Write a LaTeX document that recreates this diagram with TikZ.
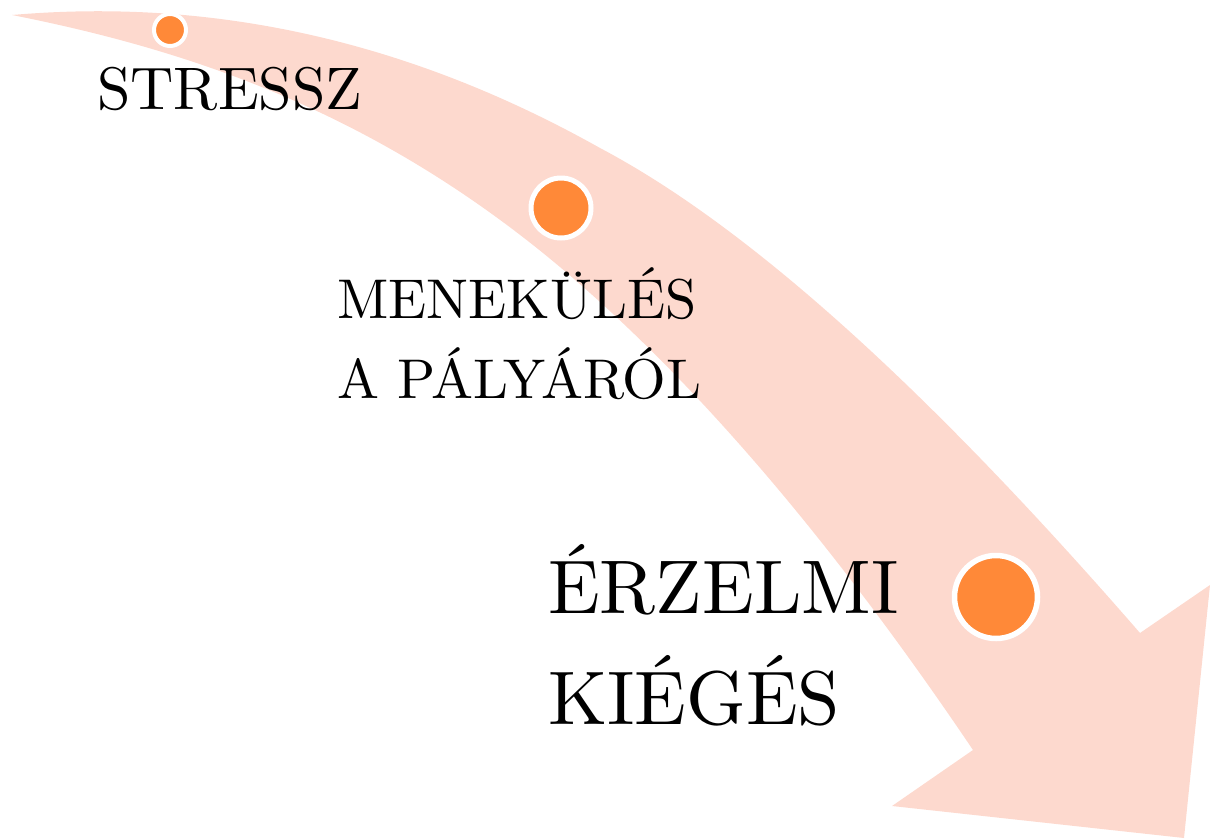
\documentclass[tikz,border=0pt]{standalone}
\usepackage{fontspec}
\setmainfont{lmroman10-regular.otf}
\definecolor{band}{RGB}{253,217,206}
\definecolor{dot}{RGB}{255,137,56}
\begin{document}
\begin{tikzpicture}[x=1pt,y=-1pt,
  dotnode/.style={circle,fill=dot,draw=white,inner sep=0pt},
  lbl/.style={anchor=base west,inner sep=0pt,text=black}]
\useasboundingbox (0,0) rectangle (1210,838);
% curved arrow band
\fill[band] (12,15) .. controls (208,-2) and (404,38) .. (600,148)
  .. controls (780,243) and (980,449) .. (1140,633)
  -- (1210,585) -- (1184,838) -- (892,806) -- (973,750)
  .. controls (830,538) and (686,369) .. (543,253)
  .. controls (366,110) and (189,50) .. (12,15) -- cycle;
% dots
\node[dotnode,minimum size=32pt,line width=4pt] (d1) at (170,30) {};
\node[dotnode,minimum size=60pt,line width=5pt] (d2) at (561,208) {};
\node[dotnode,minimum size=83pt,line width=5.5pt] (d3) at (996,597) {};
% labels
\node[lbl,font=\fontsize{60}{72}\selectfont] (t1) at (97,109) {STRESSZ};
\node[lbl,font=\fontsize{56}{67}\selectfont] (t2a) at (337,318) {MENEKÜLÉS};
\node[lbl,font=\fontsize{56}{67}\selectfont] (t2b) at (337,398) {A PÁLYÁRÓL};
\node[lbl,font=\fontsize{76}{90}\selectfont] (t3a) at (548,613) {ÉRZELMI};
\node[lbl,font=\fontsize{76}{90}\selectfont] (t3b) at (548,724) {KIÉGÉS};
\end{tikzpicture}
\end{document}
